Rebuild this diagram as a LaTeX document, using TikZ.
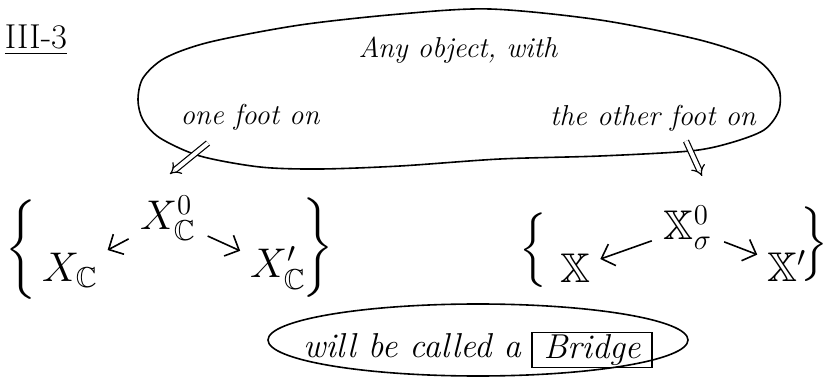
\documentclass[tikz,border=0pt]{standalone}
\usepackage{amssymb}
\usetikzlibrary{positioning,arrows.meta,shapes.geometric}

\begin{document}
\begin{tikzpicture}[
    x=0.5pt, y=-0.5pt, line width=0.8pt,
    hand/.style={font=\Large\itshape, inner sep=1pt},
    sym/.style={font=\huge, inner sep=1pt},
    brace/.style={font=\huge, inner sep=0pt},
    oval/.style={draw, ellipse, inner sep=0pt},
    foot/.style={double, double distance=2pt, line width=0.6pt, -{Implies}},
    arr/.style={-{Straight Barb[length=2mm]}, shorten <=5pt, shorten >=4pt}
  ]
    \useasboundingbox (0,0) rectangle (827,380);
    \node[sym, font=\LARGE] (title) at (36,40) {\underline{III-3}};
    \draw plot[smooth cycle] coordinates {(138,100) (143,78) (165,58) (210,42) (300,25)
      (400,14) (490,9) (600,20) (700,40) (757,60) (778,85) (779,110) (764,130)
      (730,143) (690,151) (600,156) (500,159) (400,166) (320,169) (260,167)
      (200,156) (160,138) (143,120)};
    \node[hand] (any) at (458,50) {Any object, with};
    \node[hand] (onefoot) at (250,117) {one foot on};
    \node[hand] (otherfoot) at (653,118) {the other foot on};
    \coordinate (lfoot) at (208,143);
    \coordinate (lhead) at (170,174);
    \coordinate (rfoot) at (686,141);
    \coordinate (rhead) at (702,176);
    \draw[foot] (lfoot) -- (lhead);
    \draw[foot] (rfoot) -- (rhead);
    \node[brace] (lbra) at (22,250) {$\left\{\vrule height 16pt depth 16pt width 0pt\right.$};
    \node[sym] (xc0) at (168,218) {$X^0_{\mathbb{C}}$};
    \node[sym] (xc) at (70,270) {$X_{\mathbb{C}}$};
    \node[sym] (xcp) at (278,268) {$X'_{\mathbb{C}}$};
    \node[brace] (lket) at (317,248) {$\left.\vrule height 16pt depth 16pt width 0pt\right\}$};
    \draw[arr] (xc0) -- (xc);
    \draw[arr] (xc0) -- (xcp);
    \node[brace] (rbra) at (535,252) {$\left\{\vrule height 15pt depth 15pt width 0pt\right.$};
    \node[sym] (xs0) at (688,228) {$\mathbb{X}^0_{\sigma}$};
    \node[sym] (xs) at (575,268) {$\mathbb{X}$};
    \node[sym] (xsp) at (787,266) {$\mathbb{X}'$};
    \node[brace] (rket) at (813,246) {$\left.\vrule height 15pt depth 15pt width 0pt\right\}$};
    \draw[arr] (xs0) -- (xs);
    \draw[arr] (xs0) -- (xsp);
    \node[oval, minimum width=210pt, minimum height=36pt] (bottom) at (478,340) {};
    \node[hand, font=\LARGE\itshape] (called) at (412,346) {will be called a};
    \node[draw, hand, font=\LARGE\itshape, minimum width=60pt, minimum height=17pt] (bridge) at (592,350) {Bridge};
  \end{tikzpicture}
\end{document}
